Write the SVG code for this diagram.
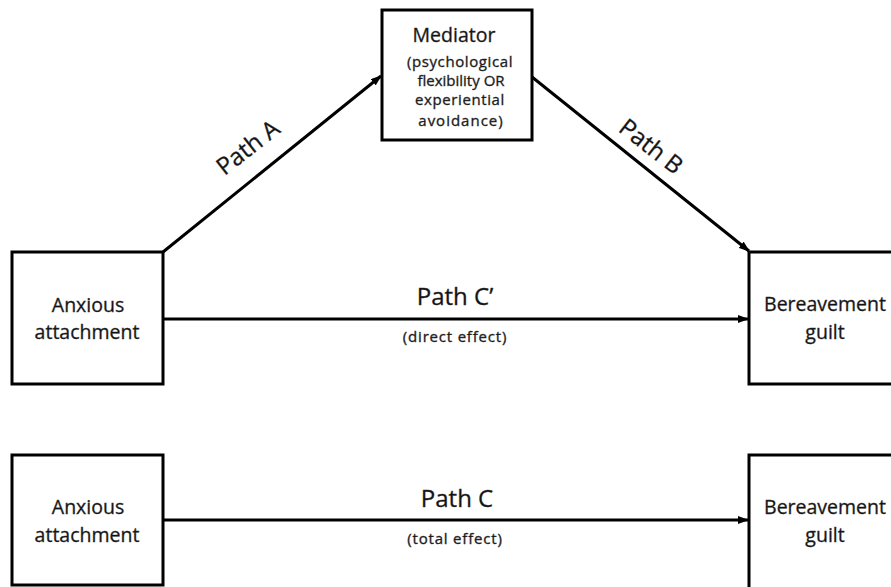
<svg xmlns="http://www.w3.org/2000/svg" width="891" height="587" viewBox="0 0 891 587">
<style>
.box{fill:#fff;stroke:#000;stroke-width:3}
.t{font-family:"Open Sans","Liberation Sans",sans-serif;fill:#111;stroke:#333;stroke-width:0.35;text-anchor:middle}
.n{font-size:19.5px}
.s{font-size:15px;letter-spacing:0.8px}
.m{font-size:15px}
.p{font-size:24px}
.c{stroke:#000;stroke-width:3;fill:none;marker-end:url(#ah)}
</style>
<defs>
<marker id="ah" markerWidth="11" markerHeight="8" refX="10" refY="4" orient="auto" markerUnits="userSpaceOnUse">
<path d="M0,0 L11,4 L0,8 Z" fill="#000"/>
</marker>
</defs>
<rect width="891" height="587" fill="#fff"/>
<g id="connectors">
<line class="c" x1="163" y1="252" x2="381" y2="76"/>
<line class="c" x1="532" y1="77" x2="749" y2="251"/>
<line class="c" x1="163" y1="319" x2="748" y2="319"/>
<line class="c" x1="163" y1="520" x2="748" y2="520"/>
<text class="t p" transform="translate(253,154) rotate(-38)">Path A</text>
<text class="t p" transform="translate(646,153) rotate(38)">Path B</text>
<text class="t p" x="455" y="305">Path C’</text>
<text class="t s" x="455" y="342">(direct effect)</text>
<text class="t p" x="457" y="507">Path C</text>
<text class="t s" x="455" y="544">(total effect)</text>
</g>
<g id="mediator">
<rect class="box" x="382" y="10" width="150" height="130"/>
<text class="t n" x="454" y="42">Mediator</text>
<text class="t m" x="460" y="67" letter-spacing="0.6">(psychological</text>
<text class="t m" x="461" y="86">flexibility OR</text>
<text class="t m" x="460" y="105" letter-spacing="0.6">experiential</text>
<text class="t m" x="461" y="126" letter-spacing="1">avoidance)</text>
</g>
<g id="anxious1">
<rect class="box" x="12" y="252" width="151" height="132"/>
<text class="t n" x="88" y="312">Anxious</text>
<text class="t n" x="87" y="339">attachment</text>
</g>
<g id="guilt1">
<rect class="box" x="749" y="252" width="150" height="132"/>
<text class="t n" x="825" y="311">Bereavement</text>
<text class="t n" x="825" y="339">guilt</text>
</g>
<g id="anxious2">
<rect class="box" x="12" y="455" width="151" height="130"/>
<text class="t n" x="88" y="514">Anxious</text>
<text class="t n" x="87" y="542">attachment</text>
</g>
<g id="guilt2">
<rect class="box" x="749" y="455" width="150" height="140"/>
<text class="t n" x="825" y="514">Bereavement</text>
<text class="t n" x="825" y="542">guilt</text>
</g>
</svg>
